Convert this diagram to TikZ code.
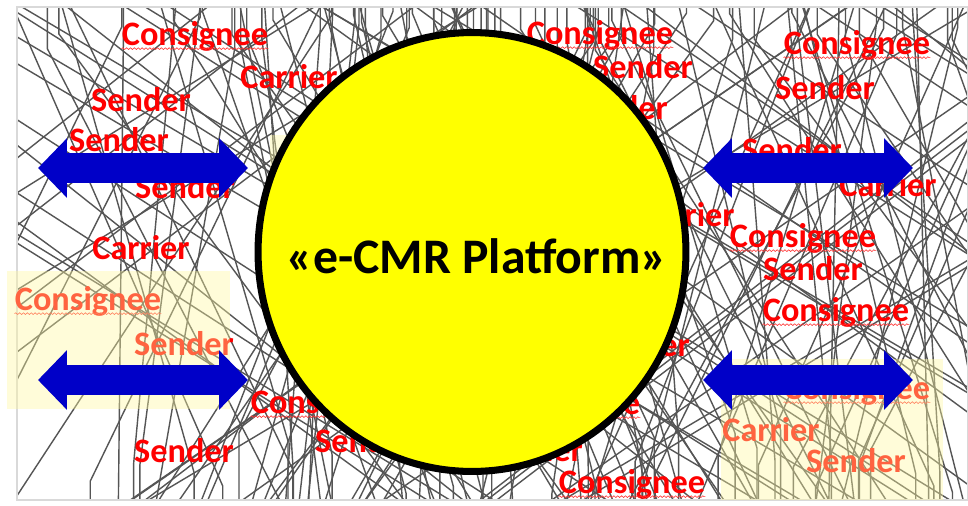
\documentclass[tikz,border=0pt]{standalone}
\usepackage{fontspec}
\setmainfont{Carlito}
\usetikzlibrary{arrows.meta,shapes.geometric,decorations.pathmorphing}
\definecolor{plfill}{HTML}{FFFF00}
\definecolor{plarrow}{HTML}{0000C8}
\definecolor{pltext}{HTML}{FF0000}
\definecolor{plwire}{HTML}{555555}
\definecolor{plmark}{HTML}{FFF9A0}
\definecolor{plframe}{HTML}{D9D9D9}
\tikzset{roletext/.style={font=\bfseries\fontsize{19.5}{21}\selectfont, text=pltext, inner sep=0pt}}
\tikzset{squiggle/.style={draw=pltext!80, line width=0.35pt, decorate, decoration={snake, amplitude=0.5pt, segment length=2.2pt}}}
\tikzset{wire/.style={draw=plwire, line width=0.8pt}}
\tikzset{hilite/.style={fill=plmark, fill opacity=0.4}}
\tikzset{dblarrow/.style={draw=plarrow, line width=17pt, {Triangle[length=16.5pt,width=33pt]}-{Triangle[length=16.5pt,width=33pt]}}}
\tikzset{platform/.style={ellipse, draw=black, line width=4pt, fill=plfill, minimum width=8.56cm, minimum height=8.78cm, inner sep=0pt}}
\tikzset{platformtext/.style={font=\bfseries\fontsize{28.3}{30}\selectfont, inner sep=0pt}}

\begin{document}
\begin{tikzpicture}[x=0.02cm, y=-0.02cm]
  \useasboundingbox (0,0) rectangle (968,505);
  \fill[white] (0,0) rectangle (968,505);

  % tangle of lines behind everything
  \begin{scope}
    \clip (17,7) rectangle (968,500);
    \pgfmathsetseed{4217}
    \foreach \i in {1,...,75}{
      \pgfmathsetmacro\xa{20+945*rnd}
      \pgfmathsetmacro\ya{10+45*rnd}
      \pgfmathsetmacro\xb{\xa+700*(rnd-0.5)}
      \draw[wire] (\xa,7) -- (\xa,\ya) -- (\xb,500);
    }
    \foreach \i in {1,...,40}{
      \pgfmathsetmacro\xa{20+945*rnd}
      \pgfmathsetmacro\ya{430+65*rnd}
      \pgfmathsetmacro\xb{\xa+500*(rnd-0.5)}
      \draw[wire] (\xa,500) -- (\xa,\ya) -- (\xb,7);
    }
    \foreach \i in {1,...,28}{
      \pgfmathsetmacro\xa{-500+1400*rnd}
      \pgfmathsetmacro\xb{\xa+600+250*rnd}
      \draw[wire] (\xa,7) -- (\xb,500);
    }
    \foreach \i in {1,...,18}{
      \pgfmathsetmacro\xa{100+1300*rnd}
      \pgfmathsetmacro\xb{\xa-600-250*rnd}
      \draw[wire] (\xa,7) -- (\xb,500);
    }
  \end{scope}
  \draw[plframe, line width=0.6pt] (17,7) rectangle (968,500);

  \foreach \x/\y [count=\i] in {195/36, 88/301, 324/404, 600/35, 857/45, 803/238, 836/312, 857/390, 632/484, 567/405}{
    \node[roletext] (cons\i) at (\x,\y) {Consignee};
    \draw[squiggle] ([yshift=-2pt]cons\i.base west) -- ([yshift=-2pt]cons\i.base east);
  }
  \foreach \x/\y [count=\i] in {141/100, 119/140, 185/187, 184/344, 184/451, 365/441, 643/67, 618/108, 825/88, 792/150, 813/269, 640/345, 856/461, 533/450}
    \node[roletext] (send\i) at (\x,\y) {Sender};
  \foreach \x/\y [count=\i] in {289/77, 141/248, 888/185, 686/215, 771/430}
    \node[roletext] (carr\i) at (\x,\y) {Carrier};

  \fill[hilite] (7,271) rectangle (230,409);
  \fill[hilite] (721,359) rectangle (943,500);
  \fill[hilite] (270,135) rectangle (400,300);

  \coordinate (ltl) at (38,168);  \coordinate (ltr) at (248,168);
  \coordinate (lbl) at (38,380);  \coordinate (lbr) at (248,380);
  \coordinate (rtl) at (703,168); \coordinate (rtr) at (913,168);
  \coordinate (rbl) at (703,380); \coordinate (rbr) at (913,380);
  \draw[dblarrow] (ltl) -- (ltr);
  \draw[dblarrow] (lbl) -- (lbr);
  \draw[dblarrow] (rtl) -- (rtr);
  \draw[dblarrow] (rbl) -- (rbr);

  \node[platform] (platform) at (472,252) {};
  \node[platformtext] (ptitle) at (477,256) {«e-CMR Platform»};
\end{tikzpicture}
\end{document}
